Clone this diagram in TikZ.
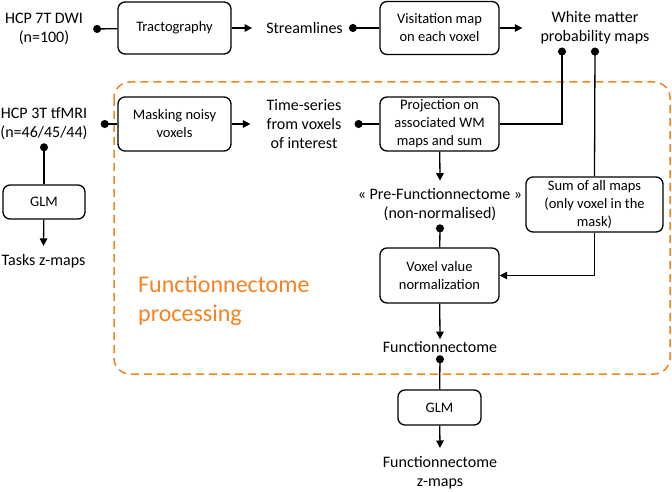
\documentclass[tikz,border=0pt]{standalone}
\usepackage{fontspec}
\setmainfont{Carlito}
\usetikzlibrary{arrows.meta}
\definecolor{procorange}{HTML}{F7821F}

\begin{document}
\begin{tikzpicture}[x=1pt, y=-1pt,
      box/.style={rectangle, rounded corners=7pt, draw, line width=1.3pt, inner sep=0pt,
                  align=center, font=\fontsize{14.5}{18}\selectfont},
      lbl/.style={inner sep=0pt, align=center, font=\fontsize{16}{19}\selectfont},
      arr/.style={-{Triangle[length=7.5pt, width=7.5pt]}, line width=1.3pt},
      dotline/.style={{Circle[length=8pt]}-, line width=1.3pt}
    ]
      \useasboundingbox (0,0) rectangle (672,492);
      % processing frame
      \draw[procorange, line width=1.5pt, dash pattern=on 8pt off 5pt, rounded corners=16pt]
        (114,82) rectangle (670,374);
      \node[procorange, inner sep=0pt, align=left, anchor=base west, font=\fontsize{24}{29}\selectfont]
        (title) at (138,321) {Functionnectome\\processing};
      % top row
      \node[lbl] (dwi) at (44,29) {HCP 7T DWI\\(n=100)};
      \node[box, minimum width=113pt, minimum height=52pt] (tract) at (174.5,28) {Tractography};
      \node[lbl] (stream) at (304.5,28) {Streamlines};
      \node[box, minimum width=119pt, minimum height=53pt] (visit) at (439.5,28) {Visitation map\\on each voxel};
      \node[lbl] (wm) at (595,28) {White matter\\probability maps};
      % second row
      \node[lbl] (tfmri) at (44,124) {HCP 3T tfMRI\\(n=46/45/44)};
      \node[box, minimum width=113pt, minimum height=54pt] (mask) at (174.5,124) {Masking noisy\\voxels};
      \node[lbl] (tseries) at (304,124) {Time-series\\from voxels\\of interest};
      \node[box, minimum width=119pt, minimum height=54pt] (proj) at (439.5,124) {Projection on\\associated WM\\maps and sum};
      % middle column
      \node[lbl] (prefc) at (440,205) {« Pre-Functionnectome »\\(non-normalised)};
      \node[box, minimum width=137pt, minimum height=55pt] (sum) at (594.5,204.5) {Sum of all maps\\(only voxel in the\\mask)};
      \node[box, minimum width=119pt, minimum height=55pt] (norm) at (439.5,275.5) {Voxel value\\normalization};
      \node[lbl] (fc) at (440,347) {Functionnectome};
      \node[box, minimum width=83pt, minimum height=35pt] (glmfc) at (439.5,407.5) {GLM};
      \node[lbl] (fczmaps) at (440,473) {Functionnectome\\z-maps};
      % task branch
      \node[box, minimum width=82pt, minimum height=34pt] (glmtask) at (44,202) {GLM};
      \node[lbl] (tasks) at (43.5,261) {Tasks z-maps};
      % connectors
      \draw[dotline] ([xshift=10pt]dwi.east) -- (tract);
      \draw[arr] (tract) -- ([xshift=-14pt]stream.west);
      \draw[dotline] ([xshift=6pt]stream.east) -- (visit);
      \draw[arr] (visit) -- ([xshift=-18pt]wm.west);
      \draw[dotline] ([xshift=-33pt, yshift=-3pt]wm.south) |- (proj.east);
      \draw[dotline] ([yshift=-3pt]wm.south) -- (sum.north);
      \draw[dotline] ([xshift=13pt]tfmri.east) -- (mask);
      \draw[arr] (mask) -- ([xshift=-16pt]tseries.west);
      \draw[dotline] ([xshift=13pt]tseries.east) -- (proj);
      \draw[arr] (proj) -- ([yshift=8pt]prefc.north);
      \draw[dotline] ([yshift=-3pt]prefc.south) -- (norm);
      \draw[arr] (sum.south) |- (norm.east);
      \draw[arr] (norm) -- ([yshift=2pt]fc.north);
      \draw[dotline] ([yshift=-2.5pt]fc.south) -- (glmfc);
      \draw[arr] (glmfc) -- ([yshift=8.5pt]fczmaps.north);
      \draw[dotline] ([yshift=-3pt]tfmri.south) -- (glmtask);
      \draw[arr] (glmtask) -- ([yshift=8pt]tasks.north);
    \end{tikzpicture}
\end{document}
